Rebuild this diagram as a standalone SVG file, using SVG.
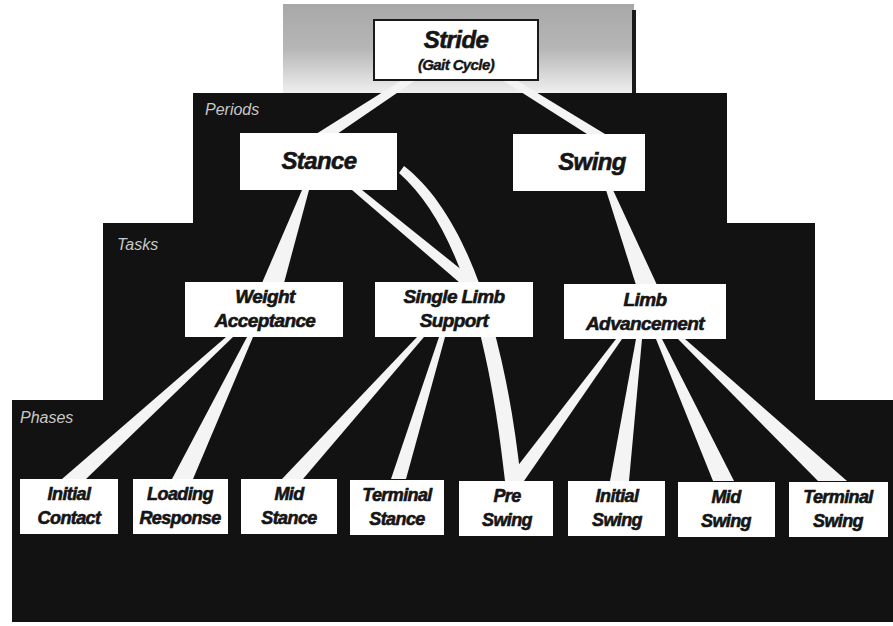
<svg xmlns="http://www.w3.org/2000/svg" width="893" height="626" viewBox="0 0 893 626">
  <style>
    .layer { fill: #121212; }
    .lbl { font-family: "Liberation Sans", Arial, sans-serif; font-style: italic; font-size: 16px; fill: #c8c8c8; }
    .box { fill: #ffffff; }
    .t { font-family: "Liberation Sans", Arial, sans-serif; font-style: italic; font-weight: bold; fill: #151515; stroke: #151515; stroke-width: 0.6px; text-anchor: middle; letter-spacing: -0.6px; }
    .big { font-size: 24px; }
    .sub { font-size: 15px; stroke-width: 0.4px; }
    .task { font-size: 19px; }
    .ph { font-size: 18px; }
    .wire { fill: #f4f4f4; }
  </style>
  <defs>
    <linearGradient id="grey" x1="0" y1="0" x2="0" y2="1">
      <stop offset="0" stop-color="#a8a8a8"/>
      <stop offset="0.5" stop-color="#b6b6b6"/>
      <stop offset="0.8" stop-color="#d8d8d8"/>
      <stop offset="1" stop-color="#f0f0f0"/>
    </linearGradient>
  </defs>
  <rect width="893" height="626" fill="#ffffff"/>
  <!-- background layers -->
  <g id="layers">
    <rect x="283" y="4" width="351" height="89" fill="url(#grey)"/>
    <rect x="632" y="10" width="4" height="83" fill="#1a1a1a"/>
    <rect class="layer" x="193" y="93" width="534" height="132"/>
    <rect class="layer" x="103" y="223" width="712" height="179"/>
    <rect class="layer" x="12" y="400" width="881" height="222"/>
    <text class="lbl" x="205" y="115">Periods</text>
    <text class="lbl" x="117" y="250">Tasks</text>
    <text class="lbl" x="20" y="423">Phases</text>
  </g>
  <!-- connectors -->
  <g id="connectors">
    <polygon class="wire" points="402,80 416,80 337,134 316,134"/>
    <polygon class="wire" points="502,80 516,80 605,134 587,134"/>
    <polygon class="wire" points="302,190 309,190 284,283 262,283"/>
    <polygon class="wire" points="352,190 362,190 478,283 460,283"/>
    <path class="wire" d="M 399,173 C 457,224 489,334 505,481 L 521,481 C 505,330 466,214 404,166 Z"/>
    <polygon class="wire" points="606,190 613,190 657,285 636,285"/>
    <polygon class="wire" points="226,337 233,337 86,479 62,479"/>
    <polygon class="wire" points="247,337 253,337 193,479 172,479"/>
    <polygon class="wire" points="417,337 424,337 303,479 282,479"/>
    <polygon class="wire" points="439,337 445,337 406,479 391,479"/>
    <polygon class="wire" points="616,339 622,339 524,481 506,481"/>
    <polygon class="wire" points="636,339 642,339 629,481 610,481"/>
    <polygon class="wire" points="656,339 662,339 734,481 713,481"/>
    <polygon class="wire" points="678,339 685,339 847,481 818,481"/>
  </g>
  <!-- nodes -->
  <g id="stride">
    <rect x="374" y="20" width="164" height="60" fill="#ffffff" stroke="#1a1a1a" stroke-width="2"/>
    <text class="t big" x="456" y="48">Stride</text>
    <text class="t sub" x="456" y="70">(Gait Cycle)</text>
  </g>
  <g id="stance">
    <rect class="box" x="240" y="133" width="157" height="57"/>
    <text class="t big" x="319" y="169">Stance</text>
  </g>
  <g id="swing">
    <rect class="box" x="513" y="134" width="132" height="57"/>
    <text class="t big" x="592" y="170">Swing</text>
  </g>
  <g id="weight-acceptance">
    <rect class="box" x="185" y="282" width="158" height="55"/>
    <text class="t task" x="265" y="303">Weight</text>
    <text class="t task" x="265" y="327">Acceptance</text>
  </g>
  <g id="single-limb-support">
    <rect class="box" x="375" y="282" width="158" height="55"/>
    <text class="t task" x="454" y="303">Single Limb</text>
    <text class="t task" x="454" y="327">Support</text>
  </g>
  <g id="limb-advancement">
    <rect class="box" x="564" y="284" width="162" height="55"/>
    <text class="t task" x="645" y="306">Limb</text>
    <text class="t task" x="645" y="330">Advancement</text>
  </g>
  <g id="initial-contact">
    <rect class="box" x="20" y="479" width="98" height="55"/>
    <text class="t ph" x="69" y="500">Initial</text>
    <text class="t ph" x="69" y="524">Contact</text>
  </g>
  <g id="loading-response">
    <rect class="box" x="133" y="479" width="95" height="55"/>
    <text class="t ph" x="180" y="500">Loading</text>
    <text class="t ph" x="180" y="524">Response</text>
  </g>
  <g id="mid-stance">
    <rect class="box" x="241" y="479" width="96" height="55"/>
    <text class="t ph" x="289" y="500">Mid</text>
    <text class="t ph" x="289" y="524">Stance</text>
  </g>
  <g id="terminal-stance">
    <rect class="box" x="350" y="480" width="94" height="55"/>
    <text class="t ph" x="397" y="501">Terminal</text>
    <text class="t ph" x="397" y="525">Stance</text>
  </g>
  <g id="pre-swing">
    <rect class="box" x="459" y="481" width="94" height="55"/>
    <text class="t ph" x="507" y="502">Pre</text>
    <text class="t ph" x="507" y="526">Swing</text>
  </g>
  <g id="initial-swing">
    <rect class="box" x="568" y="481" width="97" height="55"/>
    <text class="t ph" x="617" y="502">Initial</text>
    <text class="t ph" x="617" y="526">Swing</text>
  </g>
  <g id="mid-swing">
    <rect class="box" x="678" y="482" width="97" height="55"/>
    <text class="t ph" x="726" y="503">Mid</text>
    <text class="t ph" x="726" y="527">Swing</text>
  </g>
  <g id="terminal-swing">
    <rect class="box" x="789" y="482" width="99" height="55"/>
    <text class="t ph" x="838" y="503">Terminal</text>
    <text class="t ph" x="838" y="527">Swing</text>
  </g>
</svg>
